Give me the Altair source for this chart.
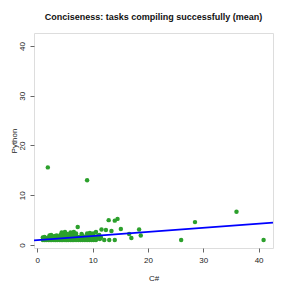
import altair as alt
import pandas as pd

# C# (x) vs Python (y) conciseness ratios
cs_sparse = [1.9, 9.0, 36.0, 28.5, 26.0, 40.9, 18.7, 18.4, 17.0, 16.6, 15.1, 14.5,
             14.0, 12.9, 14.0, 13.0, 12.1, 13.4, 12.4, 11.6, 10.6, 7.3, 11.5, 11.2]
py_sparse = [15.6, 13.0, 6.7, 4.6, 1.0, 1.0, 1.9, 3.1, 1.4, 2.2, 3.2, 5.25,
             4.9, 5.0, 1.0, 1.0, 1.0, 2.8, 3.0, 3.1, 2.6, 3.6, 1.5, 2.0]

cs_row1 = [1.0, 1.3, 1.6, 2.0, 2.3, 2.6, 3.0, 3.3, 3.6, 4.0, 4.3, 4.6, 5.0, 5.3,
           5.6, 6.0, 6.3, 6.6, 7.0, 7.4, 7.8, 8.2, 8.6, 9.0, 9.4, 9.8, 10.2, 10.6]
py_row1 = [1.0] * len(cs_row1)

cs_row2 = [1.0, 1.2, 1.5, 1.8, 2.1, 2.4, 2.8, 3.1, 3.4, 3.7, 4.1, 4.4, 4.8, 5.1,
           5.5, 5.8, 6.2, 6.5, 6.9, 7.2, 7.6, 8.0, 8.5, 9.2, 9.6, 10.0, 10.9, 11.3]
py_row2 = [1.5, 1.3, 1.4, 1.2, 1.5, 1.3, 1.4, 1.2, 1.5, 1.3, 1.4, 1.2, 1.5, 1.3,
           1.4, 1.2, 1.5, 1.3, 1.4, 1.2, 1.5, 1.3, 1.4, 1.2, 1.5, 1.3, 1.4, 1.2]

cs_row3 = [1.3, 2.2, 2.5, 2.9, 3.2, 3.5, 3.9, 4.2, 4.5, 4.9, 5.2, 5.6, 5.9, 6.3,
           6.7, 7.0, 7.5, 8.1, 8.7, 9.3, 9.9, 10.4, 11.0]
py_row3 = [1.6, 1.9, 2.0, 1.7, 1.8, 1.9, 1.7, 2.0, 1.8, 1.9, 1.7, 1.8, 2.0, 1.9,
           1.7, 1.8, 1.6, 1.9, 1.7, 1.8, 1.9, 1.7, 1.9]

cs_row4 = [4.4, 4.7, 5.0, 5.4, 6.0, 6.3, 6.6, 7.0, 8.0, 9.0, 9.5, 10.1]
py_row4 = [2.5, 2.4, 2.6, 2.2, 2.5, 2.4, 2.6, 2.3, 2.2, 2.3, 2.4, 2.3]

csharp = cs_sparse + cs_row1 + cs_row2 + cs_row3 + cs_row4
python = py_sparse + py_row1 + py_row2 + py_row3 + py_row4

# fitted line (abline) coefficients
intercept = 1.0
slope = 0.082

axis_domain = [-0.6, 42.6]
tick_vals = [0, 10, 20, 30, 40]

pts = pd.DataFrame({"C#": csharp, "Python": python})
line_df = pd.DataFrame({"C#": axis_domain,
                        "Python": [intercept + slope * v for v in axis_domain]})

xs = alt.Scale(domain=axis_domain, nice=False, zero=False)
ys = alt.Scale(domain=axis_domain, nice=False, zero=False)

axis_common = dict(values=tick_vals, grid=False, domain=False, tickSize=4,
                   tickColor="#666", labelFont="Liberation Sans", labelFontSize=8,
                   labelColor="#222", titleFont="Liberation Sans", titleFontSize=8,
                   titleFontWeight="normal", titleColor="#222", labelPadding=4)

x_axis = alt.Axis(title="C#", titleY=30, titleBaseline="middle", **axis_common)
y_axis = alt.Axis(title="Python", labelAngle=-90, labelAlign="center",
                  labelBaseline="bottom", titleX=-20, titleBaseline="middle",
                  **axis_common)

points = alt.Chart(pts).mark_circle(size=20, color="#2ca02c", opacity=1).encode(
    x=alt.X("C#:Q", scale=xs, axis=x_axis),
    y=alt.Y("Python:Q", scale=ys, axis=y_axis),
)

line = alt.Chart(line_df).mark_line(color="#0000ff", strokeWidth=1.8).encode(
    x=alt.X("C#:Q", scale=xs),
    y=alt.Y("Python:Q", scale=ys),
)

chart = (points + line).properties(
    width=239, height=215,
    autosize="none",
    padding={"left": 26, "top": 25, "right": 10, "bottom": 35},
    title=alt.TitleParams("Conciseness: tasks compiling successfully (mean)",
                          font="Liberation Sans", fontSize=9, fontWeight="bold",
                          color="#111", anchor="middle", frame="group", offset=11),
).configure_view(stroke="#888", strokeWidth=1).configure(background="white")

chart.save("out.html", embed_options={"renderer": "svg", "actions": False})
